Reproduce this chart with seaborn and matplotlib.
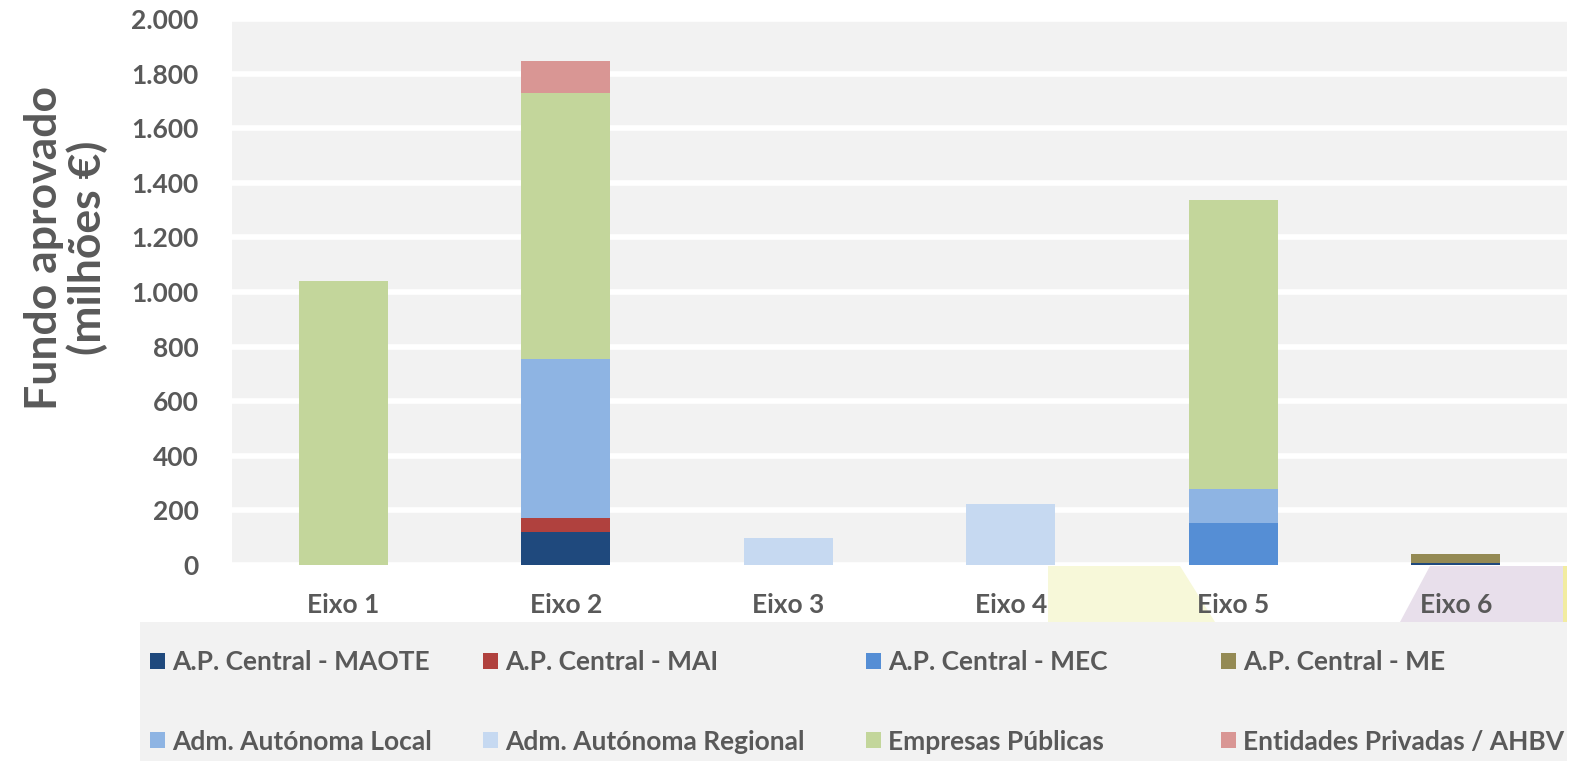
import matplotlib
matplotlib.use('Agg')
import matplotlib.pyplot as plt
from matplotlib.patches import Rectangle, Polygon
import seaborn as sns

# categories and series (milhões €)
categories = ['Eixo 1', 'Eixo 2', 'Eixo 3', 'Eixo 4', 'Eixo 5', 'Eixo 6']
series_names = ['A.P. Central - MAOTE', 'A.P. Central - MAI', 'A.P. Central - MEC',
                'A.P. Central - ME', 'Adm. Autónoma Local', 'Adm. Autónoma Regional',
                'Empresas Públicas', 'Entidades Privadas / AHBV']
maote = [0, 120, 0, 0, 0, 7]
mai = [0, 52, 0, 0, 0, 0]
mec = [0, 0, 0, 0, 155, 0]
me = [0, 0, 0, 0, 0, 34]
adm_local = [0, 584, 0, 0, 125, 0]
adm_regional = [0, 0, 99, 225, 0, 0]
empresas = [1040, 972, 0, 0, 1056, 0]
entidades = [0, 118, 0, 0, 0, 0]
yticks = [0, 200, 400, 600, 800, 1000, 1200, 1400, 1600, 1800, 2000]
ytick_labels = ['0', '200', '400', '600', '800', '1.000', '1.200', '1.400', '1.600', '1.800', '2.000']

colors = ['#1f497d', '#b0413e', '#558ed5', '#948a54',
          '#8eb4e3', '#c6d9f1', '#c3d69b', '#d99694']

sns.set_theme(style='white')
plt.rcParams['font.family'] = ['Lato', 'DejaVu Sans']
plt.rcParams['font.weight'] = 'bold'
text_color = '#595959'

fig = plt.figure(figsize=(15.81, 7.61), dpi=100)
W, H = 1581, 761

# decorative background shapes below the axis
fig.patches.append(Polygon([(1048/W, 1-566/H), (1180/W, 1-566/H), (1215/W, 1-622/H), (1048/W, 1-622/H)],
                           closed=True, transform=fig.transFigure, facecolor='#f7f8d9', edgecolor='none', zorder=-2))
fig.patches.append(Polygon([(1430/W, 1-566/H), (1565/W, 1-566/H), (1565/W, 1-622/H), (1400/W, 1-622/H)],
                           closed=True, transform=fig.transFigure, facecolor='#e8dfeb', edgecolor='none', zorder=-2))
fig.patches.append(Rectangle((1563/W, 1-622/H), 4/W, 56/H, transform=fig.transFigure,
                             facecolor='#f2eca0', edgecolor='none', zorder=-2))
# legend band
fig.patches.append(Rectangle((140/W, 0), (1567-140)/W, 139/H, transform=fig.transFigure,
                             facecolor='#f2f2f2', edgecolor='none', zorder=-2))

ax = fig.add_axes([232/W, 1-565/H, (1567-232)/W, (565-19)/H])
ax.set_facecolor('#f2f2f2')
ax.patch.set_zorder(-1)

all_series = [maote, mai, mec, me, adm_local, adm_regional, empresas, entidades]
bottom = [0] * len(categories)
for name, vals, col in zip(series_names, all_series, colors):
    sns.barplot(x=categories, y=vals, bottom=bottom, color=col, width=0.4, saturation=1,
                label=name, ax=ax, linewidth=0, zorder=3)
    bottom = [b + v for b, v in zip(bottom, vals)]

ax.set_ylim(0, 2000)
ax.set_xlim(-0.5, 5.5)
ax.set_yticks(yticks)
ax.set_yticklabels(ytick_labels)
ax.grid(axis='y', color='white', linewidth=4, zorder=0)
ax.set_axisbelow(True)
for s in ax.spines.values():
    s.set_visible(False)
ax.tick_params(axis='y', length=0, pad=24, labelsize=19, labelcolor=text_color)
ax.tick_params(axis='x', length=0, pad=20, labelsize=19, labelcolor=text_color)
for lab in ax.get_xticklabels() + ax.get_yticklabels():
    lab.set_fontweight('bold')

fig.text(66/W, 1-248/H, 'Fundo aprovado\n(milhões €)', rotation=90, ha='center', va='center',
         fontsize=32, fontweight='bold', color=text_color, linespacing=1.05)

handles, labels = ax.get_legend_handles_labels()
if ax.get_legend():
    ax.get_legend().remove()
# one legend per column, two rows each
col_x = [150, 483, 866, 1221]
for c, x in enumerate(col_x):
    idx = [c, c + 4]
    leg = fig.legend([handles[i] for i in idx], [labels[i] for i in idx], ncol=1,
                     loc='center left', bbox_to_anchor=(x/W, 1-702/H), frameon=False,
                     fontsize=19, handlelength=0.55, handleheight=0.55, handletextpad=0.3,
                     borderaxespad=0, borderpad=0, labelspacing=2.1, labelcolor=text_color)
    for t in leg.get_texts():
        t.set_fontweight('bold')

fig.savefig('out.png', dpi=100)
